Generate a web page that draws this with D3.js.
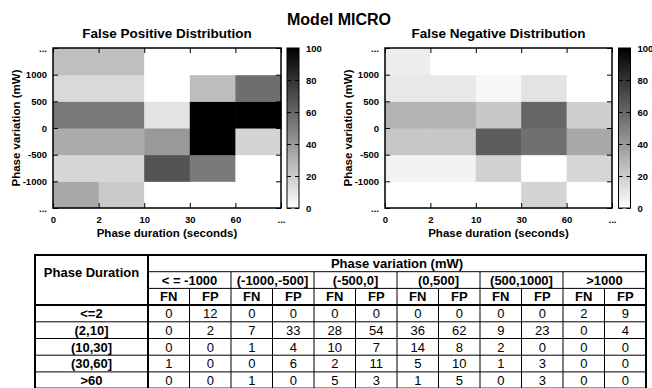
<!DOCTYPE html>
<html>
<head>
<meta charset="utf-8">
<script src="https://cdn.jsdelivr.net/npm/d3@7"></script>
<style>
  body { margin: 0; background: #fff; }
  text { font-family: "Liberation Sans", Arial, sans-serif; }
</style>
</head>
<body>
<script>
// Chart data
var durationBins = ["<=2", "(2,10]", "(10,30]", "(30,60]", ">60"];
var variationBins = ["< = -1000", "(-1000,-500]", "(-500,0]", "(0,500]", "(500,1000]", ">1000"];
var xEdgeLabels = ["0", "2", "10", "30", "60", "..."];
var yEdgeLabels = ["...", "-1000", "-500", "0", "500", "1000", "..."];
var colorTicks = [0, 20, 40, 60, 80, 100];

// heatmap percentages, one row per variation bin (bottom row first), one value per duration bin
var fpGrid = [
  [34, 21, 0, 0, 0],
  [16, 16, 67, 52, 0],
  [33, 33, 40, 100, 17],
  [53, 53, 11, 100, 100],
  [15, 15, 0, 26, 57],
  [25, 25, 0, 0, 0]
];
var fnGrid = [
  [0, 0, 0, 17, 0],
  [5, 5, 18, 0, 16],
  [22, 22, 64, 56, 34],
  [30, 30, 22, 60, 19],
  [9, 9, 3, 11, 0],
  [7, 0, 0, 0, 0]
];

// table counts, one row per duration bin, one value per variation bin
var tableFN = [
  [0, 0, 0, 0, 0, 2],
  [0, 7, 28, 36, 9, 0],
  [0, 1, 10, 14, 2, 0],
  [1, 0, 2, 5, 1, 0],
  [0, 1, 5, 1, 0, 0]
];
var tableFP = [
  [12, 0, 0, 0, 0, 9],
  [2, 33, 54, 62, 23, 4],
  [0, 4, 7, 8, 0, 0],
  [0, 6, 11, 10, 3, 0],
  [0, 0, 3, 5, 3, 0]
];

var svgWidth = 652;
var svgHeight = 388;
var font = '"Liberation Sans", Arial, sans-serif';

var svg = d3.select("body")
  .append("svg")
  .attr("width", svgWidth)
  .attr("height", svgHeight);

// gray palette, white = 0, black = 100
var color = d3.scaleLinear().domain([0, 100]).range(["#ffffff", "#000000"]);

var defs = svg.append("defs");
var grad = defs.append("linearGradient")
  .attr("id", "cbgrad")
  .attr("x1", 0).attr("y1", 1).attr("x2", 0).attr("y2", 0);
grad.append("stop").attr("offset", 0).attr("stop-color", color(0));
grad.append("stop").attr("offset", 1).attr("stop-color", color(100));

svg.append("text")
  .attr("x", 339)
  .attr("y", 25)
  .attr("text-anchor", "middle")
  .attr("font-weight", "bold")
  .attr("font-size", 16)
  .text("Model MICRO");

function styleAxis(g) {
  g.select(".domain").remove();
  g.selectAll("text")
    .attr("font-family", font)
    .attr("font-weight", "bold")
    .attr("font-size", 9.5)
    .attr("fill", "#000");
  g.selectAll("line").attr("stroke", "#000").attr("stroke-width", 1);
}

function drawHeatmap(left, cbLeft, width, title, grid) {
  var top = 48, height = 160, cbWidth = 12;

  var x = d3.scaleLinear().domain([0, durationBins.length]).range([0, width]);
  var y = d3.scaleLinear().domain([0, variationBins.length]).range([height, 0]);

  var chartGroup = svg.append("g")
    .attr("transform", `translate(${left}, ${top})`);

  var cells = [];
  grid.forEach(function(row, r) {
    row.forEach(function(v, c) {
      cells.push({ r: r, c: c, v: v });
    });
  });

  chartGroup.selectAll("rect.cell")
    .data(cells)
    .enter()
    .append("rect")
    .attr("class", "cell")
    .attr("x", d => x(d.c))
    .attr("y", d => y(d.r + 1))
    .attr("width", d => x(d.c + 1) - x(d.c) + 0.5)
    .attr("height", d => y(d.r) - y(d.r + 1) + 0.5)
    .attr("fill", d => color(d.v));

  // ticks on all four sides, pointing inward
  chartGroup.append("g")
    .attr("transform", `translate(0, ${height})`)
    .call(d3.axisBottom(x).tickValues(d3.range(6)).tickFormat(i => xEdgeLabels[i])
      .tickSizeInner(-5).tickSizeOuter(0).tickPadding(8))
    .call(styleAxis);
  chartGroup.append("g")
    .call(d3.axisTop(x).tickValues(d3.range(6)).tickFormat("")
      .tickSizeInner(-5).tickSizeOuter(0))
    .call(styleAxis);
  chartGroup.append("g")
    .call(d3.axisLeft(y).tickValues(d3.range(7)).tickFormat(i => yEdgeLabels[i])
      .tickSizeInner(-5).tickSizeOuter(0).tickPadding(6))
    .call(styleAxis);
  chartGroup.append("g")
    .attr("transform", `translate(${width}, 0)`)
    .call(d3.axisRight(y).tickValues(d3.range(7)).tickFormat("")
      .tickSizeInner(-5).tickSizeOuter(0))
    .call(styleAxis);

  chartGroup.append("rect")
    .attr("width", width)
    .attr("height", height)
    .attr("fill", "none")
    .attr("stroke", "#000")
    .attr("stroke-width", 1.5);

  chartGroup.append("text")
    .attr("x", width / 2)
    .attr("y", -10.5)
    .attr("text-anchor", "middle")
    .attr("font-weight", "bold")
    .attr("font-size", 13.5)
    .text(title);

  chartGroup.append("text")
    .attr("x", width / 2)
    .attr("y", height + 29)
    .attr("text-anchor", "middle")
    .attr("font-weight", "bold")
    .attr("font-size", 11.5)
    .text("Phase duration (seconds)");

  chartGroup.append("text")
    .attr("text-anchor", "middle")
    .attr("transform", `translate(-33, ${height / 2})rotate(-90)`)
    .attr("font-weight", "bold")
    .attr("font-size", 11.5)
    .text("Phase variation (mW)");

  // colour box
  var cb = d3.scaleLinear().domain([0, 100]).range([height, 0]);
  var cbGroup = svg.append("g")
    .attr("transform", `translate(${cbLeft}, ${top})`);
  cbGroup.append("rect")
    .attr("width", cbWidth)
    .attr("height", height)
    .attr("fill", "url(#cbgrad)");
  cbGroup.append("g")
    .attr("transform", `translate(${cbWidth}, 0)`)
    .call(d3.axisRight(cb).tickValues(colorTicks).tickSizeInner(-4).tickSizeOuter(0).tickPadding(7))
    .call(styleAxis);
  cbGroup.append("g")
    .call(d3.axisLeft(cb).tickValues(colorTicks).tickFormat("").tickSizeInner(-4).tickSizeOuter(0))
    .call(styleAxis);
  cbGroup.append("rect")
    .attr("width", cbWidth)
    .attr("height", height)
    .attr("fill", "none")
    .attr("stroke", "#000")
    .attr("stroke-width", 1);
}

drawHeatmap(53, 287, 228, "False Positive Distribution", fpGrid);
drawHeatmap(385, 618.5, 227, "False Negative Distribution", fnGrid);

// Table
var tLeft = 35, tRight = 646, tTop = 255, tBottom = 388.6, labelRight = 148;
var nCols = variationBins.length * 2;
var colX = d3.scaleLinear().domain([0, nCols]).range([labelRight, tRight]);
var rowY = d3.scaleLinear().domain([0, 3 + durationBins.length]).range([tTop, tBottom]);

var table = svg.append("g");

function hline(y, x1, x2, w) {
  table.append("line").attr("x1", x1).attr("x2", x2).attr("y1", y).attr("y2", y)
    .attr("stroke", "#000").attr("stroke-width", w);
}
function vline(x, y1, y2, w) {
  table.append("line").attr("x1", x).attr("x2", x).attr("y1", y1).attr("y2", y2)
    .attr("stroke", "#000").attr("stroke-width", w);
}

hline(rowY(1), labelRight, tRight, 1);
hline(rowY(2), labelRight, tRight, 1);
d3.range(4, 3 + durationBins.length).forEach(r => hline(rowY(r), tLeft, tRight, 1));
d3.range(2, nCols, 2).forEach(c => vline(colX(c), rowY(1), tBottom, 1));
d3.range(1, nCols, 2).forEach(c => vline(colX(c), rowY(2), tBottom, 1));
hline(rowY(3), tLeft, tRight, 2);
vline(labelRight, tTop, tBottom, 2);
table.append("rect")
  .attr("x", tLeft).attr("y", tTop)
  .attr("width", tRight - tLeft).attr("height", tBottom - tTop)
  .attr("fill", "none").attr("stroke", "#000").attr("stroke-width", 2);

function cellText(x, y, str, bold) {
  table.append("text")
    .attr("x", x)
    .attr("y", y)
    .attr("dy", "0.36em")
    .attr("text-anchor", "middle")
    .attr("font-size", 13)
    .attr("font-weight", bold ? "bold" : "normal")
    .text(str);
}

cellText((tLeft + labelRight) / 2, (rowY(0) + rowY(2)) / 2 + 1, "Phase Duration", true);
cellText((labelRight + tRight) / 2, (rowY(0) + rowY(1)) / 2, "Phase variation (mW)", true);

table.selectAll("text.group")
  .data(variationBins)
  .enter()
  .append("text")
  .attr("class", "group")
  .attr("x", (d, i) => (colX(2 * i) + colX(2 * i + 2)) / 2)
  .attr("y", (rowY(1) + rowY(2)) / 2)
  .attr("dy", "0.36em")
  .attr("text-anchor", "middle")
  .attr("font-size", 13)
  .attr("font-weight", "bold")
  .text(d => d);

d3.range(nCols).forEach(function(c) {
  cellText((colX(c) + colX(c + 1)) / 2, (rowY(2) + rowY(3)) / 2, c % 2 === 0 ? "FN" : "FP", true);
});

durationBins.forEach(function(label, r) {
  var yMid = (rowY(3 + r) + rowY(4 + r)) / 2;
  cellText((tLeft + labelRight) / 2, yMid, label, true);
  variationBins.forEach(function(v, g) {
    cellText((colX(2 * g) + colX(2 * g + 1)) / 2, yMid, tableFN[r][g], false);
    cellText((colX(2 * g + 1) + colX(2 * g + 2)) / 2, yMid, tableFP[r][g], false);
  });
});
</script>
</body>
</html>
